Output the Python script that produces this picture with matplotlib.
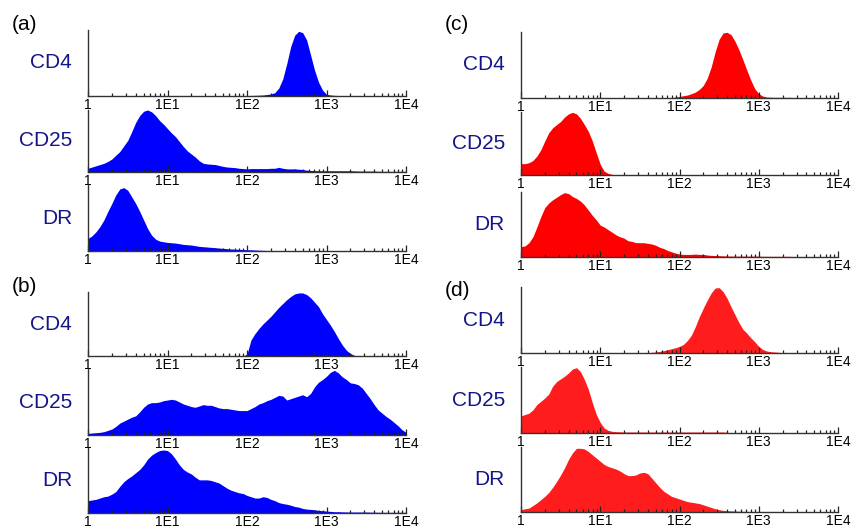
"""
Flow cytometry histograms: CD4 / CD25 / DR staining for four samples (a)-(d).
Each panel is a log-scale intensity histogram, heights in % of panel max.
"""

import numpy as np
import matplotlib
matplotlib.use("Agg")
import matplotlib.pyplot as plt
from matplotlib.ticker import LogLocator, NullFormatter, FixedLocator, FixedFormatter

plt.rcParams["font.family"] = ["Liberation Sans", "DejaVu Sans"]

# ---------------------------------------------------------------------------
# Data: bin centres every 0.05 decade from 1 to 1E4, heights
# ---------------------------------------------------------------------------
LOG_BINS = np.linspace(0, 4, 81)
INTENSITY = 10 ** LOG_BINS

MARKERS = ["CD4", "CD25", "DR"]
PANEL_LETTERS = ["(a)", "(b)", "(c)", "(d)"]
TICK_VALUES = [1, 10, 100, 1000, 10000]
TICK_LABELS = ["1", "1E1", "1E2", "1E3", "1E4"]

A_CD4 = [0] * 40 + [
    0.5, 0.8, 1.0, 1.2, 1.5, 2.2, 3.0, 5.0, 12, 26,
    49, 75, 92, 98, 96, 85, 62, 39, 21, 9,
    2.5, 1.5, 1.0, 0.7, 0.5, 0.4, 0, 0, 0, 0,
] + [0] * 11
A_CD25 = [
    6, 8, 10, 12, 14, 17, 21, 27, 33, 42,
    51, 65, 80, 91, 98, 100, 97, 91, 83, 77,
    70, 63, 57, 49, 41, 34, 29, 24, 18, 14,
    13, 12.5, 12, 10.5, 9, 8, 7.5, 7, 6, 5.5,
    5, 5.5, 5.5, 5.5, 5.5, 5.5, 6, 6, 7.5, 6,
    5, 5, 5, 4.5, 4, 3, 2.5, 2.2, 2, 2,
    2, 2, 2, 2, 2, 2, 2, 1.8, 1.5, 1.5,
    1.5, 1.5, 1.5, 1.2, 1, 1, 1, 1, 1, 1,
    1,
]
A_DR = [
    19, 23, 29, 37, 47, 60, 72, 85, 94, 96,
    92, 82, 72, 60, 47, 34, 24, 18, 15, 14,
    13, 12.5, 12, 11, 10, 9.5, 9, 8, 7, 6.5,
    6, 5.5, 5, 4.5, 4, 3.5, 3, 2.8, 2.5, 2.2,
    2, 1.8, 1.5, 1.2, 1, 0.8, 0.5, 0.4, 0.3, 0.2,
] + [0] * 31

B_CD4 = [0] * 40 + [
    3, 25, 35, 43, 50, 56, 62, 69, 76, 82,
    88, 93, 97, 98.5, 98.5, 96, 91, 84, 77, 66,
    57, 48, 38, 27, 17, 9, 4, 1, 0, 0,
] + [0] * 11
B_CD25 = [
    2.5, 3, 3.5, 4, 5, 7, 9, 13, 18, 21,
    24, 27, 29, 35, 42, 47, 49, 49, 50, 52,
    53, 54, 53, 50, 47, 45, 43, 42, 44, 46,
    45, 45, 43, 41, 40, 40, 39, 38, 37, 37,
    37, 40, 43, 47, 49, 52, 54, 57, 60, 59,
    53, 55, 57, 59, 61, 58, 63, 73, 80, 84,
    89, 95, 98, 94, 88, 84, 79, 78, 76, 71,
    63, 55, 46, 38, 33, 28, 24, 19, 14, 8,
    4,
]
B_DR = [
    19, 20, 21, 23, 25, 26, 29, 33, 41, 48,
    53, 57, 62, 67, 74, 83, 89, 93, 96, 97,
    96, 91, 83, 74, 67, 63, 60, 55, 51, 51,
    51, 50, 48, 46, 42, 38, 35, 33, 31, 30,
    27, 25, 23, 23, 25, 24, 21, 19, 16, 14.5,
    13.5, 12, 10, 9, 7, 6, 5.5, 5, 4, 3.5,
    3, 2.5, 2, 2, 1.8, 1.6, 1.5, 1.5, 1.5, 1.5,
    1.5, 1.3, 1.2, 1.1, 1, 1, 1, 1, 1, 1,
    1,
]

C_CD4 = [0] * 38 + [
    0.5, 1.5,
    2.5, 3.5, 4.5, 6.5, 9, 13, 19, 30, 47, 70,
    89, 98.5, 99.5, 96, 86, 73, 58, 42, 27, 14,
    6.5, 3, 1.5, 1.2, 1, 1, 1, 1, 1, 0.5,
] + [0] * 11
C_CD25 = [
    18, 18, 19.5, 23, 30, 40, 54, 67, 75, 80,
    85, 92, 97, 99.5, 97, 90, 80, 69, 54, 35,
    17, 6, 2.5, 1, 0.5, 0.3, 0.3, 0.3, 0.3, 0.3,
    0.3, 0.3, 0.3, 0.3, 0.3, 0.3, 0.3, 0.3, 0.3, 0.3,
] + [0] * 41
C_DR = [
    16, 17, 22, 31, 46, 62, 76, 83, 88, 92,
    96, 99, 97.5, 93, 90, 86, 80, 72, 64, 57,
    49, 46, 42, 38, 34, 31, 29, 25, 24, 22,
    22, 22, 21, 20, 18, 15, 13, 10, 8, 6,
    4.5, 4, 4, 4, 4.5, 4, 4, 3, 2.5, 2.2,
    2, 1.8, 1.5, 1.4, 1.3, 1.3, 1.3, 1.3, 1.3, 1.3,
    1.3, 1, 1, 1, 1, 1, 1, 1, 1, 0.5,
    0.3, 0, 0, 0, 0, 0, 0, 0, 0, 0,
    0,
]

D_CD4 = [0] * 30 + [
    0, 0, 0.5, 1, 1.5, 2.5, 3.5, 5, 6.5, 8,
    10, 13, 19, 27, 40, 55, 68, 80, 91, 98.5,
    99, 93, 83, 70, 58, 46, 36, 30, 23, 17,
    10, 5.5, 3, 2, 1.5, 1, 0.5, 0.3, 0, 0,
] + [0] * 11
D_CD25 = [
    26, 28, 30, 35, 43, 48, 53, 59, 71, 78,
    82, 86, 91, 97, 99, 93, 81, 66, 46, 28,
    16, 7.5, 4, 2.5, 2, 1.8, 1.5, 1.5, 1.5, 1.5,
    1.5, 1.5, 1.5, 1.5, 1.5, 1.5, 1.5, 1.5, 1.5, 1.5,
    1.5, 1.5, 1.5, 1.5, 1.5, 1.5, 1.5, 1.5, 1.5, 1.5,
    1.5, 1.5, 1, 0.5, 0.5, 0, 0, 0, 0, 0,
] + [0] * 21
D_DR = [
    3.5, 5, 6, 10, 14, 19, 24, 30, 38, 47,
    57, 68, 81, 91, 98, 98, 97, 93, 88, 83,
    78, 73, 70, 68, 66, 63, 59, 56, 56, 57,
    60, 61, 59, 52, 45, 38, 32, 28, 24, 22,
    20, 18, 16, 15, 14, 13, 11, 9, 7, 5,
    3.5, 2.5, 2, 1.8, 1.5, 1.2, 1, 0.9, 0.8, 0.8,
    0.8, 0.8, 0.8, 0.8, 0.8, 0.8, 0.8, 0.5, 0.5, 0.5,
    0.5, 0.3, 0, 0, 0, 0, 0, 0, 0, 0,
    0,
]

SAMPLES = [
    [A_CD4, A_CD25, A_DR],
    [B_CD4, B_CD25, B_DR],
    [C_CD4, C_CD25, C_DR],
    [D_CD4, D_CD25, D_DR],
]

# ---------------------------------------------------------------------------
# Layout (pixels on an 856x532 canvas)
# ---------------------------------------------------------------------------
W, H = 856, 532
BLUE = "#0000ff"
RED_C = "#ff0000"
RED_D = "#ff1c1c"
LABEL_COLOR = "#14148a"
SAMPLE_COLORS = [BLUE, BLUE, RED_C, RED_D]

# (left px, width px, [(top, bottom) per marker], letter (x, y) px)
LAYOUT = [
    (88, 318, [(30, 96), (110, 172), (185, 251)], (12, 24)),
    (88, 318, [(292, 356), (369, 435), (448, 513)], (12, 287)),
    (521, 317, [(32, 98), (112, 175), (192, 257)], (445, 24)),
    (521, 317, [(287, 353), (367, 433), (447, 512)], (445, 290)),
]

fig = plt.figure(figsize=(W / 100, H / 100), dpi=100)

for s, (left, width, rows, letter_xy) in enumerate(LAYOUT):
    for m, (top, bottom) in enumerate(rows):
        ax = fig.add_axes([left / W, 1 - bottom / H, width / W, (bottom - top) / H])
        ax.fill_between(INTENSITY, SAMPLES[s][m], 0, color=SAMPLE_COLORS[s], lw=0)

        ax.set_xscale("log")
        ax.set_xlim(1, 1e4)
        ax.set_ylim(0, 100)
        ax.xaxis.set_major_locator(FixedLocator(TICK_VALUES))
        ax.xaxis.set_major_formatter(FixedFormatter(TICK_LABELS))
        ax.xaxis.set_minor_locator(LogLocator(base=10, subs=np.arange(2, 10)))
        ax.xaxis.set_minor_formatter(NullFormatter())
        ax.set_yticks([])
        ax.tick_params(axis="x", which="major", direction="in", length=4,
                       width=0.9, pad=1.5, labelsize=10, color="#222222")
        ax.tick_params(axis="x", which="minor", direction="in", length=2,
                       width=0.9, color="#222222")
        for side in ("top", "right"):
            ax.spines[side].set_visible(False)
        for side in ("left", "bottom"):
            ax.spines[side].set_linewidth(1.0)
            ax.spines[side].set_color("#333333")
        ax.patch.set_alpha(0)

        fig.text((left - 16) / W, 1 - (top + bottom) / 2 / H, MARKERS[m],
                 ha="right", va="center", fontsize=15, color=LABEL_COLOR)

    fig.text(letter_xy[0] / W, 1 - letter_xy[1] / H, PANEL_LETTERS[s],
             ha="left", va="center", fontsize=15, color="black")

fig.savefig("out.png", dpi=100)
